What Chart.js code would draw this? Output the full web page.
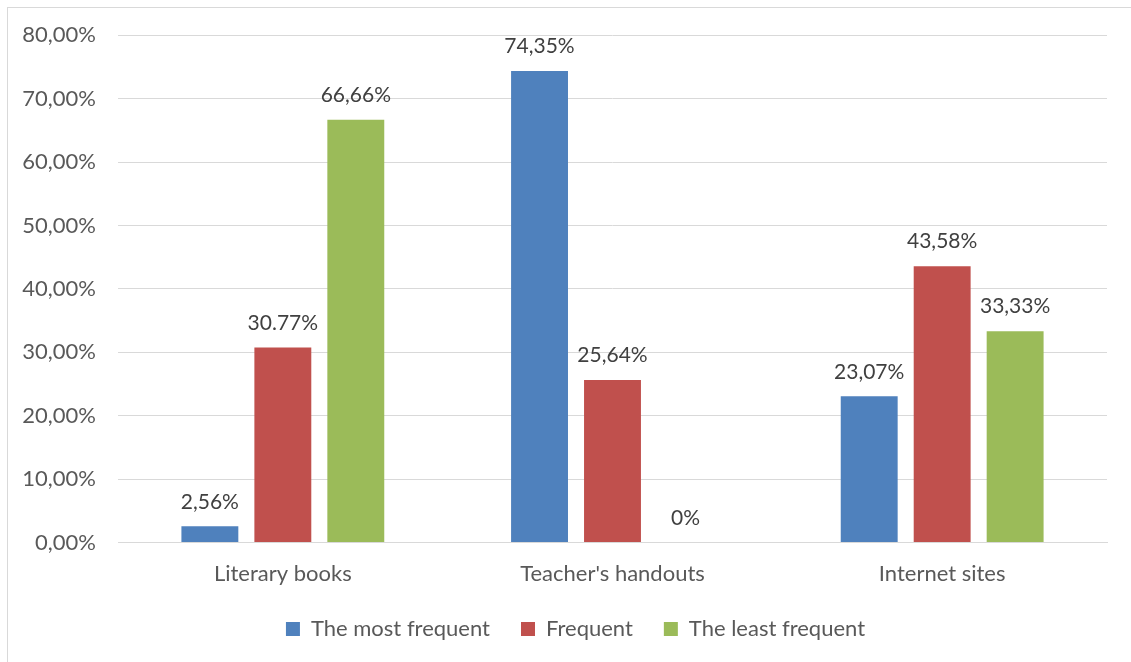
<!DOCTYPE html>
<html>
<head>
<meta charset="utf-8">
<script src="https://cdn.jsdelivr.net/npm/chart.js@4/dist/chart.umd.min.js"></script>
<style>
    html, body { margin: 0; padding: 0; background: #fff; }
    #wrap { position: relative; width: 1131px; height: 662px; overflow: hidden; }
    #frame { position: absolute; left: 7px; top: 7px; width: 1140px; height: 670px; border: 1px solid #d9d9d9; box-sizing: border-box; }
    #chart { position: absolute; left: 0; top: 0; }
</style>
</head>
<body>
<div id="wrap">
    <div id="frame"></div>
    <canvas id="chart" width="1131" height="662"></canvas>
</div>
<script>
const categories = ['Literary books', "Teacher's handouts", 'Internet sites'];
const seriesNames = ['The most frequent', 'Frequent', 'The least frequent'];
const mostFrequent = [2.56, 74.35, 23.07];
const frequent = [30.77, 25.64, 43.58];
const leastFrequent = [66.66, 0, 33.33];
// labels as printed above each bar
const mostFrequentLabels = ['2,56%', '74,35%', '23,07%'];
const frequentLabels = ['30.77%', '25,64%', '43,58%'];
const leastFrequentLabels = ['66,66%', '0%', '33,33%'];
const yTicks = [0, 10, 20, 30, 40, 50, 60, 70, 80];

const colors = ['#4f81bd', '#c0504d', '#9bbb59'];
const textColor = '#595959';
const fontFamily = 'Lato, "Open Sans", sans-serif';

// draws the value text above every bar
const barLabels = {
    id: 'barLabels',
    afterDatasetsDraw(chart) {
        const ctx = chart.ctx;
        ctx.save();
        ctx.font = '21px ' + fontFamily;
        ctx.fillStyle = '#404040';
        ctx.textAlign = 'center';
        ctx.textBaseline = 'bottom';
        chart.data.datasets.forEach((ds, i) => {
            const meta = chart.getDatasetMeta(i);
            meta.data.forEach((bar, j) => {
                ctx.fillText(ds.valueLabels[j], bar.x, bar.y - 14);
            });
        });
        ctx.restore();
    }
};

// pull the legend up closer to the axis labels and a bit to the right
const legendShift = {
    id: 'legendShift',
    afterLayout(chart) {
        const lg = chart.legend;
        lg.left += 18;
        lg.right += 18;
        lg.top -= 18;
        lg.bottom -= 18;
    }
};

const ctx = document.getElementById('chart').getContext('2d');
const myChart = new Chart(ctx, {
    type: 'bar',
    data: {
        labels: categories,
        datasets: [{
            label: seriesNames[0],
            data: mostFrequent,
            valueLabels: mostFrequentLabels,
            backgroundColor: colors[0]
        }, {
            label: seriesNames[1],
            data: frequent,
            valueLabels: frequentLabels,
            backgroundColor: colors[1]
        }, {
            label: seriesNames[2],
            data: leastFrequent,
            valueLabels: leastFrequentLabels,
            backgroundColor: colors[2]
        }]
    },
    options: {
        responsive: false,
        animation: false,
        categoryPercentage: 0.664,
        barPercentage: 0.78,
        layout: {
            padding: { left: 8, right: 24, top: 31, bottom: -6 }
        },
        plugins: {
            legend: {
                position: 'bottom',
                labels: {
                    boxWidth: 14,
                    boxHeight: 14,
                    padding: 31,
                    color: textColor,
                    font: { family: fontFamily, size: 22 }
                }
            },
            tooltip: { enabled: false }
        },
        scales: {
            y: {
                min: 0,
                max: 80,
                afterFit: (scale) => { scale.width = 110; },
                afterBuildTicks: (scale) => {
                    scale.ticks = yTicks.map(v => ({ value: v }));
                },
                ticks: {
                    color: textColor,
                    padding: 22,
                    font: { family: fontFamily, size: 22 },
                    callback: (v) => v.toFixed(2).replace('.', ',') + '%'
                },
                grid: { color: '#d9d9d9', drawTicks: false },
                border: { display: false }
            },
            x: {
                ticks: {
                    color: textColor,
                    padding: 18,
                    font: { family: fontFamily, size: 22 }
                },
                grid: { display: false, drawTicks: false },
                border: { color: '#d9d9d9' }
            }
        }
    },
    plugins: [barLabels, legendShift]
});
</script>
</body>
</html>
